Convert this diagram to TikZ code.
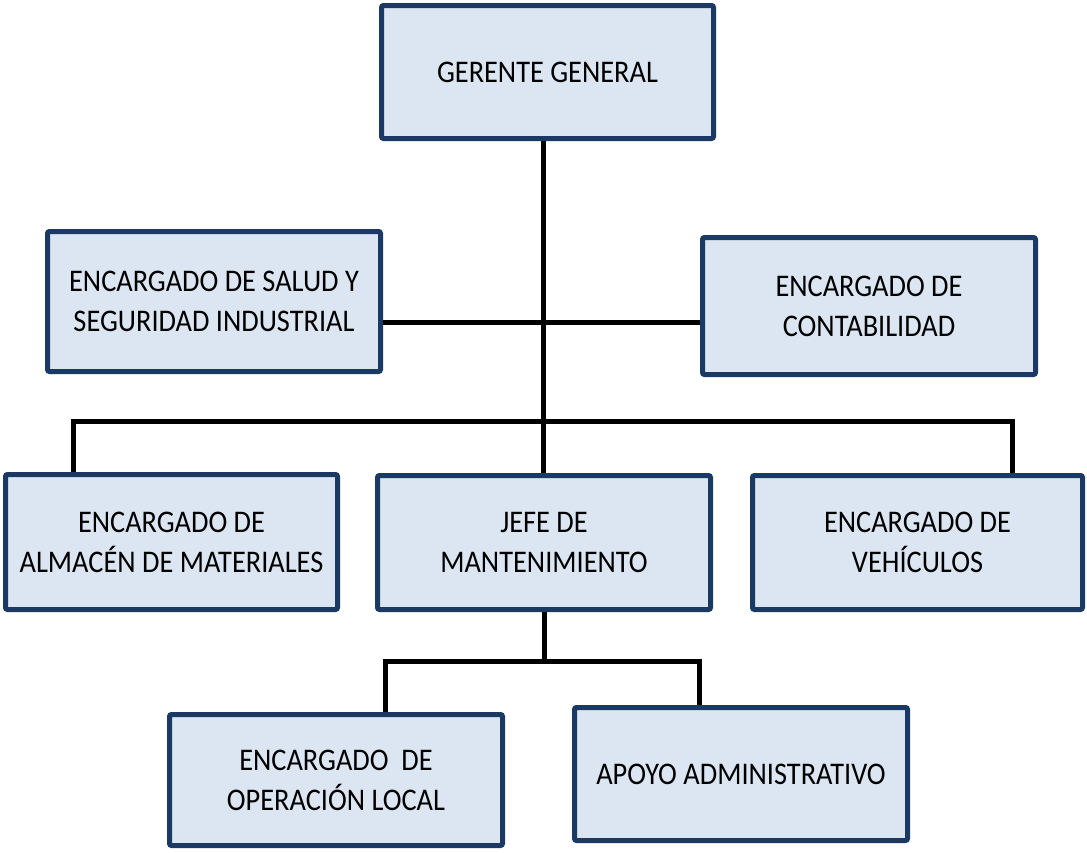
\documentclass[tikz,border=0pt]{standalone}
\usepackage{fontspec}
\setmainfont{Carlito}[FakeStretch=0.9]
\definecolor{boxfill}{HTML}{DCE6F2}
\definecolor{boxline}{HTML}{1B3A63}
\begin{document}
\begin{tikzpicture}[x=1pt,y=-1pt,
  orgbox/.style={draw=boxline, fill=boxfill, line width=5pt, rounded corners=2pt,
    align=center, inner sep=0pt, font=\fontsize{31.5}{40}\selectfont, text=black},
  link/.style={draw=black, line width=5pt}]
\useasboundingbox (0,0) rectangle (1087,852);
\node[orgbox, minimum width=332pt, minimum height=133pt] (gg) at (547.5,72) {GERENTE GENERAL};
\node[orgbox, minimum width=333pt, minimum height=140pt] (salud) at (214,301.5) {ENCARGADO DE SALUD Y\\SEGURIDAD INDUSTRIAL};
\node[orgbox, minimum width=333pt, minimum height=137pt] (contab) at (869,306) {ENCARGADO DE\\CONTABILIDAD};
\node[orgbox, minimum width=332pt, minimum height=135pt] (almacen) at (171.5,542) {ENCARGADO DE\\ALMAC\'EN DE MATERIALES};
\node[orgbox, minimum width=333pt, minimum height=134pt] (jefe) at (544,542.5) {JEFE DE\\MANTENIMIENTO};
\node[orgbox, minimum width=330pt, minimum height=134pt] (veh) at (917.5,542.5) {ENCARGADO DE\\VEH\'ICULOS};
\node[orgbox, minimum width=333pt, minimum height=131pt] (oper) at (336,780) {ENCARGADO \ DE\\OPERACI\'ON LOCAL};
\node[orgbox, minimum width=333pt, minimum height=133pt] (apoyo) at (741,774) {APOYO ADMINISTRATIVO};
\coordinate (mid) at (543,322);
\coordinate (bl) at (73,421);
\coordinate (br) at (1012,421);
\coordinate (jl) at (385,661);
\coordinate (jr) at (699,661);
\draw[link] (salud.east |- mid) -- (contab.west |- mid);
\draw[link] (gg.south -| mid) -- (jefe.north -| mid);
\draw[link] (almacen.north -| bl) -- (bl) -- (br) -- (veh.north -| br);
\draw[link] (jefe.south) -- (jefe.south |- jl);
\draw[link] (oper.north -| jl) -- (jl) -- (jr) -- (apoyo.north -| jr);
\end{tikzpicture}
\end{document}
